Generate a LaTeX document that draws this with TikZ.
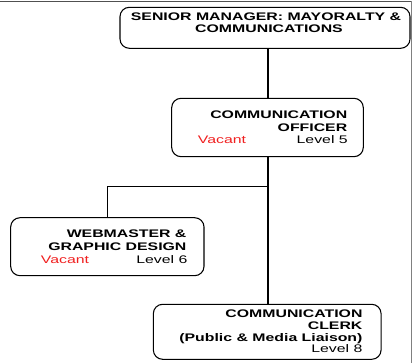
\documentclass[tikz,border=0pt]{standalone}
\usepackage{fontspec}
\newfontfamily\chartfont{Liberation Sans}[FakeStretch=1.44]
\definecolor{vacred}{HTML}{F02020}
\definecolor{framegray}{HTML}{505050}
\begin{document}
\begin{tikzpicture}[x=0.75pt,y=-0.75pt,
  post/.style={draw=black, line width=0.8pt, rounded corners=7pt, inner sep=0pt},
  conn/.style={draw=black, line width=0.8pt},
  ttl/.style={font=\chartfont\fontsize{8.25}{9.5}\selectfont\bfseries, inner sep=0pt},
  lvl/.style={font=\chartfont\fontsize{8.25}{9.5}\selectfont, inner sep=0pt},
  vac/.style={lvl, text=vacred},
]
\useasboundingbox (0,0) rectangle (413,363);

% page frame (top and right edges)
\draw[framegray, line width=1.1pt] (0,1.5) -- (411.5,1.5);
\draw[gray, line width=0.6pt] (411.8,1.5) -- (411.8,363);

% posts
\node[post, minimum width=217.5pt, minimum height=30.75pt] (top) at (265,27.8) {};
\node[post, minimum width=143.7pt, minimum height=43.8pt] (officer) at (267.5,127.5) {};
\node[post, minimum width=145pt, minimum height=43.5pt] (web) at (107.35,246.7) {};
\node[post, minimum width=170.8pt, minimum height=41.25pt] (clerk) at (267.2,331.8) {};

% reporting lines
\coordinate (spine) at (268,0);
\coordinate (branch) at (268,186.5);
\draw[conn] (top.south -| spine) -- (officer.north -| spine);
\draw[conn] (officer.south -| spine) -- (clerk.north -| spine);
\draw[conn] (branch) -| (web.north);

% senior manager
\node[ttl, anchor=base] (topA) at (266,20.7) {SENIOR MANAGER: MAYORALTY \&};
\node[ttl, anchor=base] (topB) at (269,32.7) {COMMUNICATIONS};

% communication officer
\node[ttl, anchor=base east] (offA) at (347.5,119) {COMMUNICATION};
\node[ttl, anchor=base east] (offB) at (347.5,131.5) {OFFICER};
\node[vac, anchor=base west] (offV) at (197.7,144) {Vacant};
\node[lvl, anchor=base east] (offL) at (348,144) {Level 5};

% webmaster
\node[ttl, anchor=base east] (webA) at (186.7,237.3) {WEBMASTER \&};
\node[ttl, anchor=base east] (webB) at (186.7,250) {GRAPHIC DESIGN};
\node[vac, anchor=base west] (webV) at (40.7,263.3) {Vacant};
\node[lvl, anchor=base east] (webL) at (187.7,263.3) {Level 6};

% communication clerk
\node[ttl, anchor=base east] (clkA) at (362.7,317) {COMMUNICATION};
\node[ttl, anchor=base east] (clkB) at (362.7,329) {CLERK};
\node[ttl, anchor=base east] (clkC) at (362.7,341) {(Public \& Media Liaison)};
\node[lvl, anchor=base east] (clkL) at (362.7,352.7) {Level 8};
\end{tikzpicture}
\end{document}
